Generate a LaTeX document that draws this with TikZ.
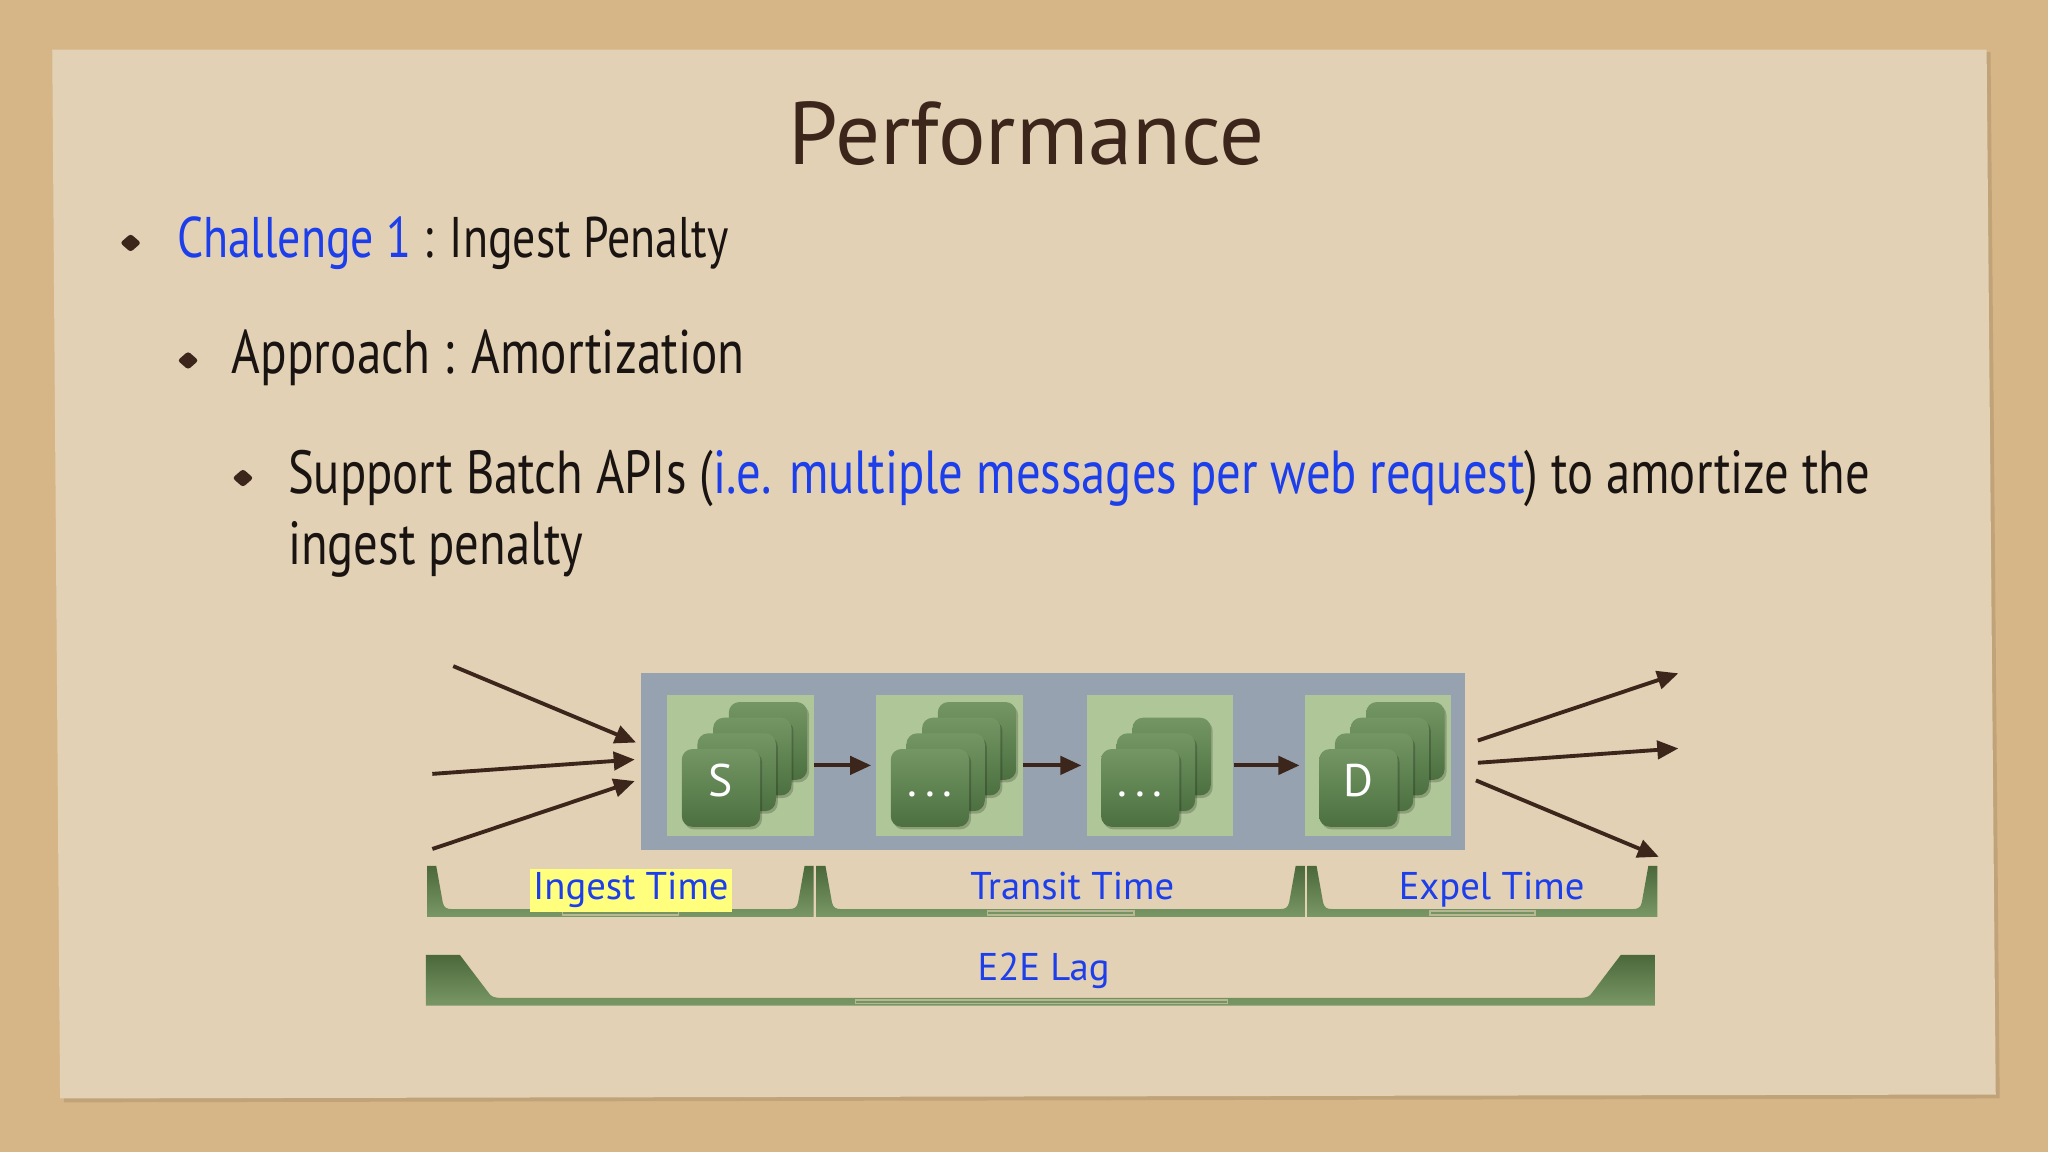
\documentclass[tikz,border=0pt]{standalone}
\usepackage{fontspec}
\setmainfont{PT Sans}[FakeStretch=0.8]
\newfontfamily\plainfont{PT Sans}
\usepackage{xcolor}
\usetikzlibrary{arrows.meta}

\definecolor{sand}{RGB}{214,182,135}
\definecolor{paper}{RGB}{226,209,180}
\definecolor{inkbrown}{RGB}{60,38,28}
\definecolor{inkblack}{RGB}{25,20,18}
\definecolor{linkblue}{RGB}{28,62,235}
\definecolor{slate}{RGB}{150,162,176}
\definecolor{leaf}{RGB}{175,199,152}
\definecolor{cardtop}{RGB}{116,150,100}
\definecolor{cardbot}{RGB}{76,112,64}
\definecolor{bracetop}{RGB}{74,104,58}
\definecolor{bracebot}{RGB}{122,152,102}
\definecolor{marker}{RGB}{255,255,125}

\tikzset{
  stage/.style={fill=leaf, minimum width=1.463cm, minimum height=1.411cm, inner sep=0pt},
  card/.style={rounded corners=3pt, top color=cardtop, bottom color=cardbot},
  flow/.style={inkbrown, line width=1.1pt, -{Triangle[length=6pt,width=5.2pt]}},
  spanlabel/.style={text=linkblue, font=\plainfont\fontsize{11}{13}\selectfont, inner sep=1pt, anchor=base},
  bodytext/.style={text=inkblack, anchor=base west, inner sep=0pt},
}

\begin{document}
\begin{tikzpicture}[x=0.013061cm, y=-0.013061cm]
        \useasboundingbox (0,0) rectangle (1568,882);
        \fill[sand] (0,0) rectangle (1568,882);
        \fill[black, opacity=.1] (43,41) -- (1524,40) -- (1531,841) -- (49,844) -- cycle;
        \fill[paper] (40,38) -- (1521,38) -- (1528,838) -- (46,841) -- cycle;

        \node[inkbrown, font=\plainfont\fontsize{25.3}{30}\selectfont, anchor=base, inner sep=0pt] (title) at (786,126) {Performance};

        \foreach \bx/\by in {100/186, 144/276, 186/366} {
          \fill[inkbrown, rounded corners=0.8pt] (\bx-8,\by) -- (\bx,\by-7) -- (\bx+8,\by) -- (\bx,\by+7) -- cycle;
        }
        \node[bodytext, font=\fontsize{16.3}{20}\selectfont] (challenge) at (135,197) {\textcolor{linkblue}{Challenge 1} : Ingest Penalty};
        \node[bodytext, font=\fontsize{17.5}{20}\selectfont] (approach) at (177,286) {Approach : Amortization};
        \node[bodytext, font=\fontsize{17.3}{20}\selectfont] (batch) at (220,378) {Support Batch APIs (\textcolor{linkblue}{i.e. multiple messages per web request}) to amortize the};
        \node[bodytext, font=\fontsize{17.3}{20}\selectfont] (batchrest) at (220,432) {ingest penalty};

        \fill[slate] (491,515) rectangle (1122,651);
        \node[stage] (stage1) at (567,586) {};
        \node[stage] (stage2) at (727,586) {};
        \node[stage] (stage3) at (888,586) {};
        \node[stage] (stage4) at (1055,586) {};

        \foreach \bx/\n/\lab/\nm in {511/3/S/lab1, 671/3/{.\,.\,.}/lab2, 832/2/{.\,.\,.}/lab3, 999/3/D/lab4} {
          \foreach \k in {\n,...,0} {
            \fill[black, opacity=.2, rounded corners=3pt] (\bx+12.5+12*\k,575.5-12*\k) rectangle +(60,59.5);
            \shade[card] (\bx+11+12*\k,573.5-12*\k) rectangle +(60,59.5);
          }
          \node[text=white, font=\plainfont\fontsize{13}{15}\selectfont, anchor=base, inner sep=0pt] (\nm) at (\bx+41,610) {\lab};
        }

        \draw[flow, shorten >=1.3pt] (stage1.east) -- (stage2.west);
        \draw[flow, shorten >=1.3pt] (stage2.east) -- (stage3.west);
        \draw[flow, shorten >=1.3pt] (stage3.east) -- (stage4.west);

        \foreach \name/\pt in {srcA/{347,510}, srcB/{331,592.5}, srcC/{331,650}, inA/{487,568.5}, inB/{486,581.5}, inC/{486,598},
                               outA/{1131.5,567}, outB/{1131.5,584}, outC/{1130,597.5}, dstA/{1285,515.5}, dstB/{1285,573}, dstC/{1270,656}} {
          \coordinate (\name) at (\pt);
        }
        \foreach \s/\t in {srcA/inA, srcB/inB, srcC/inC, outA/dstA, outB/dstB, outC/dstC} {
          \draw[flow] (\s) -- (\t);
        }

        \foreach \l/\r in {327/623, 625/999, 1001/1269} {
          \shade[top color=bracetop, bottom color=bracebot] (\l,663) -- (\l+7,663) -- (\l+12,691)
            .. controls (\l+13,695) and (\l+15,696) .. (\l+19,696) -- (\r-19,696)
            .. controls (\r-15,696) and (\r-13,695) .. (\r-12,691) -- (\r-7,663) -- (\r,663) -- (\r,702) -- (\l,702) -- cycle;
          \draw[paper, opacity=.6, line width=.4pt] ({\l+0.35*(\r-\l)},697.5) rectangle ({\l+0.65*(\r-\l)},700.5);
        }
        \shade[top color=bracetop, bottom color=bracebot] (326,731) -- (352,731) -- (374,760)
          .. controls (376,763) and (378,764) .. (384,764) -- (1209,764)
          .. controls (1215,764) and (1217,763) .. (1219,760) -- (1241,731) -- (1267,731) -- (1267,770) -- (326,770) -- cycle;
        \draw[paper, opacity=.6, line width=.4pt] (655,765.5) rectangle (940,768.5);

        \node[spanlabel, fill=marker] (ingestlab) at (483,689) {Ingest Time};
        \node[spanlabel] (transitlab) at (821,689) {Transit Time};
        \node[spanlabel] (expellab) at (1142,689) {Expel Time};
        \node[spanlabel] (laglab) at (799,751) {E2E Lag};
      \end{tikzpicture}
\end{document}
